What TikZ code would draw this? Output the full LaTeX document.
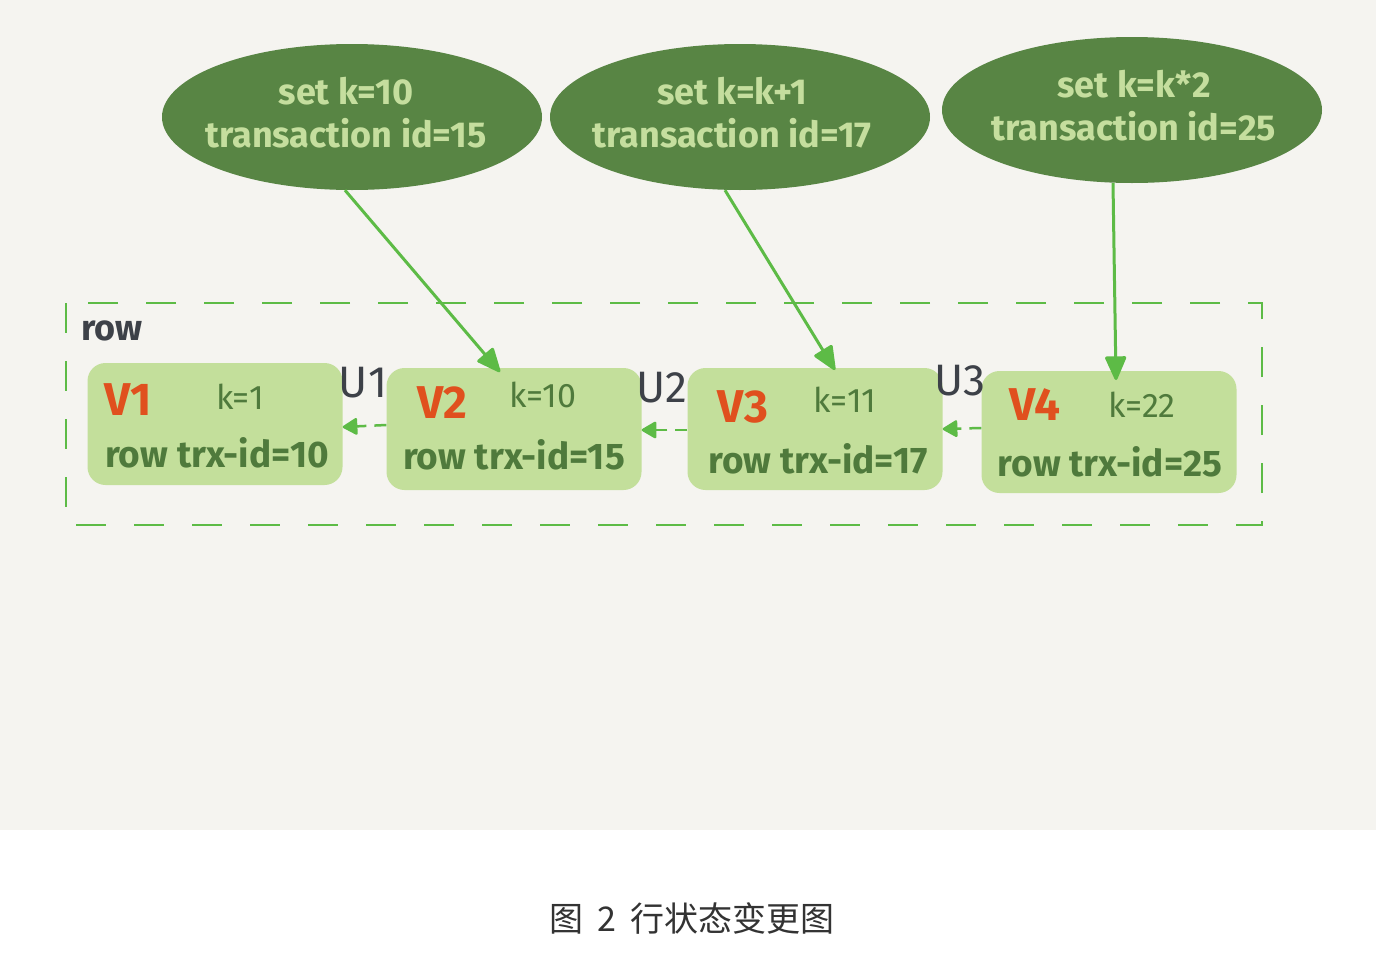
\documentclass[tikz,border=0pt]{standalone}
\usepackage{fontspec}
\setmainfont{Fira Sans}
\newfontfamily\cjk{Noto Sans CJK SC}
\usetikzlibrary{arrows.meta,shapes.geometric}
\definecolor{bgc}{HTML}{F5F4F0}
\definecolor{darkg}{HTML}{588544}
\definecolor{lightt}{HTML}{C5DE9E}
\definecolor{boxg}{HTML}{C3DF9B}
\definecolor{textg}{HTML}{4F7A3C}
\definecolor{redv}{HTML}{E0501E}
\definecolor{grayu}{HTML}{3D4148}
\definecolor{lineg}{HTML}{5DBB46}
\tikzset{
  ell/.style={ellipse, fill=darkg, minimum width=380pt, minimum height=146pt, inner sep=0pt},
  elltext/.style={text=lightt, font=\bfseries\fontsize{36}{43}\selectfont, align=center},
  rowbox/.style={rounded corners=18pt, fill=boxg, minimum width=255pt, minimum height=122pt, inner sep=0pt},
  vlab/.style={text=redv, font=\bfseries\fontsize{46}{46}\selectfont},
  klab/.style={text=textg, font=\fontsize{34}{34}\selectfont},
  trx/.style={text=textg, font=\bfseries\fontsize{37}{37}\selectfont},
  ulab/.style={text=grayu, font=\fontsize{44}{44}\selectfont},
  setarrow/.style={draw=lineg, line width=3pt, -{Triangle[length=26pt,width=22pt,round]}},
  verarrow/.style={draw=lineg, line width=2.5pt, dash pattern=on 12pt off 8pt, -{Triangle[length=16pt,width=18pt,round]}},
  rowframe/.style={draw=lineg, line width=2.5pt, dash pattern=on 30pt off 28pt}
}
\begin{document}
\begin{tikzpicture}[x=1pt,y=-1pt]
\useasboundingbox (0,0) rectangle (1376,964);
\fill[bgc] (0,0) rectangle (1376,830);
\fill[white] (0,830) rectangle (1376,964);

% row frame
\draw[rowframe] (66,303) rectangle (1262,525);
\node[text=grayu, font=\bfseries\fontsize{36}{36}\selectfont, anchor=west] (rowlab) at (78,331) {row};

% ellipses
\node[ell] (e1) at (352,117) {};
\node[ell] (e2) at (740,117) {};
\node[ell] (e3) at (1132,110) {};
\node[elltext] (t1) at (346,113) {set k=10\\transaction id=15};
\node[elltext] (t2) at (732,113) {set k=k+1\\transaction id=17};
\node[elltext] (t3) at (1134,106) {set k=k*2\\transaction id=25};

% row boxes
\node[rowbox] (b1) at (215,424) {};
\node[rowbox] (b2) at (514,429) {};
\node[rowbox] (b3) at (815,429) {};
\node[rowbox] (b4) at (1109,432) {};

\node[vlab] (v1) at (128,400) {V1};
\node[vlab] (v2) at (442,403) {V2};
\node[vlab] (v3) at (743,407) {V3};
\node[vlab] (v4) at (1035,405) {V4};

\node[klab] (k1) at (240,397) {k=1};
\node[klab] (k2) at (543,395) {k=10};
\node[klab] (k3) at (845,400) {k=11};
\node[klab] (k4) at (1142,405) {k=22};

\node[trx] (r1) at (217,453) {row trx-id=10};
\node[trx] (r2) at (514,455) {row trx-id=15};
\node[trx] (r3) at (818,459) {row trx-id=17};
\node[trx] (r4) at (1110,462) {row trx-id=25};

\node[ulab] (u1) at (363,383) {U1};
\node[ulab] (u2) at (662,388) {U2};
\node[ulab] (u3) at (960,381) {U3};

% version arrows
\draw[verarrow] (b2.west |- 0,425) -- (b1.east |- 0,427);
\draw[verarrow] (b3.west |- 0,430) -- (b2.east |- 0,430);
\draw[verarrow] (b4.west |- 0,428) -- (b3.east |- 0,429);

% set arrows
\coordinate (a1) at (500,372);
\coordinate (a2) at (835,370);
\coordinate (a3) at (1116,380);
\draw[setarrow] (e1.south) ++(-7,0) -- (a1);
\draw[setarrow] (e2.south) ++(-15,0) -- (a2);
\draw[setarrow] (e3.south) ++(-19,0) -- (a3);

% caption
\node[font=\cjk\fontsize{34}{34}\selectfont, text=black!80] (cap) at (692,918) {图\hspace{6pt} 2\hspace{6pt} 行状态变更图};
\end{tikzpicture}
\end{document}
